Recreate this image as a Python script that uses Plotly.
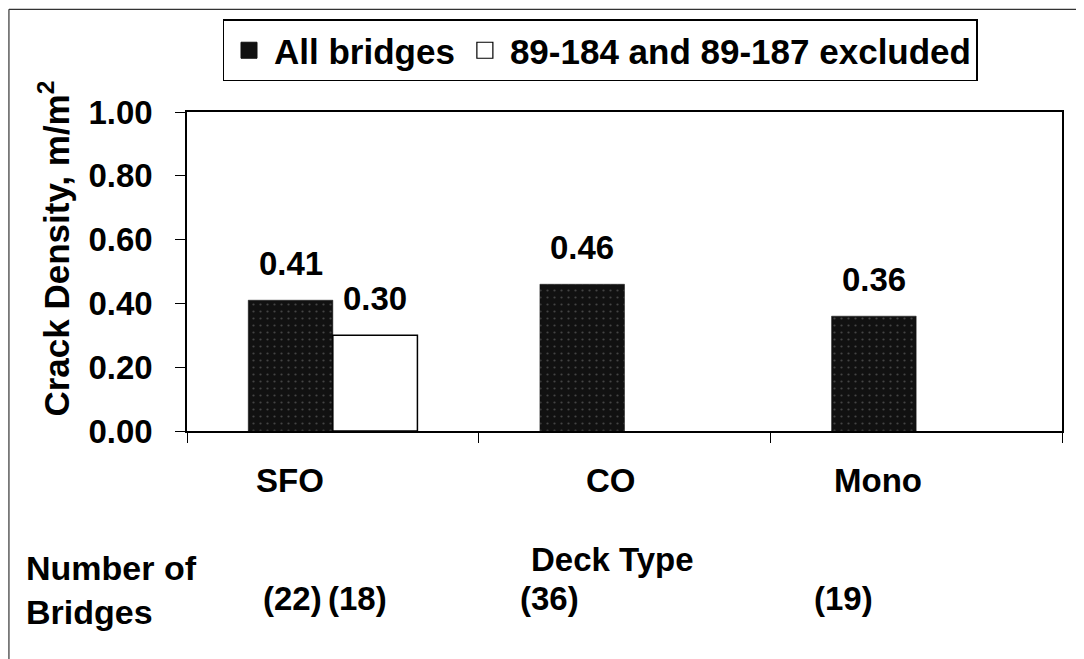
import plotly.graph_objects as go

# ---- data ----
deck_types = ["SFO", "CO", "Mono"]
all_bridges = [0.41, 0.46, 0.36]
excluded = [0.30, None, None]
series_names = ["All bridges", "89-184 and 89-187 excluded"]
n_all = [22, 36, 19]
n_excl = [18, None, None]
y_ticks = [0.0, 0.2, 0.4, 0.6, 0.8, 1.0]

FONT = "Liberation Sans, Arial, sans-serif"
FS = 33
BARGAP = 0.42
HALF = (1 - BARGAP) / 4  # centre offset of each of the two grouped bars


def bold(size):
    return dict(family=FONT, size=size, color="black", weight="bold")


fig = go.Figure()
fig.add_trace(go.Bar(
    x=deck_types, y=all_bridges, name=series_names[0], showlegend=False,
    marker=dict(color="#111111", line=dict(color="#111111", width=0.5),
                pattern=dict(shape=".", fgcolor="#777777", bgcolor="#111111",
                             size=7, solidity=0.08)),
))
fig.add_trace(go.Bar(
    x=deck_types, y=excluded, name=series_names[1], showlegend=False,
    marker=dict(color="white", line=dict(color="black", width=1.5)),
))
# legend entries (larger squares than the default bar swatch)
fig.add_trace(go.Scatter(
    x=[None], y=[None], mode="markers", name=series_names[0],
    marker=dict(symbol="square", size=16, color="#111111", line=dict(color="#111111", width=1)),
))
fig.add_trace(go.Scatter(
    x=[None], y=[None], mode="markers", name=series_names[1],
    marker=dict(symbol="square", size=16, color="white", line=dict(color="black", width=1.2)),
))

annotations = []
# value labels above the bars
for i, v in enumerate(all_bridges):
    if v is not None:
        annotations.append(dict(x=i - HALF, xref="x", y=v, yref="y", text=f"{v:.2f}",
                                showarrow=False, yanchor="middle", yshift=37, font=bold(FS)))
for i, v in enumerate(excluded):
    if v is not None:
        annotations.append(dict(x=i + HALF, xref="x", y=v, yref="y", text=f"{v:.2f}",
                                showarrow=False, yanchor="middle", yshift=37, font=bold(FS)))
# category labels (slightly offset as in the original)
cat_shift = [-43, -14, -38]
for c, s in zip(deck_types, cat_shift):
    annotations.append(dict(x=c, xref="x", y=-0.154, yref="paper", text=c,
                            showarrow=False, xshift=s, yanchor="middle", font=bold(FS)))
# number of bridges
for c, n, s in zip(deck_types, n_all, [-40, -75, -73]):
    annotations.append(dict(x=c, xref="x", y=-0.524, yref="paper", text=f"({n})",
                            showarrow=False, xshift=s, yanchor="middle", font=bold(FS)))
for c, n, s in zip(deck_types, n_excl, [25, 0, 0]):
    if n is not None:
        annotations.append(dict(x=c, xref="x", y=-0.524, yref="paper", text=f"({n})",
                                showarrow=False, xshift=s, yanchor="middle", font=bold(FS)))
annotations.append(dict(x=0.486, xref="paper", y=-0.404, yref="paper", text="Deck Type",
                        showarrow=False, yanchor="middle", font=bold(FS)))
annotations.append(dict(x=-0.186, xref="paper", y=-0.498, yref="paper",
                        text="Number of<br>Bridges", align="left",
                        showarrow=False, xanchor="left", yanchor="middle", font=bold(34)))
annotations.append(dict(x=-0.152, xref="paper", y=0.572, yref="paper",
                        text="Crack Density, m/m<sup>2</sup>", textangle=-90,
                        showarrow=False, xanchor="center", yanchor="middle", font=bold(35)))

shapes = [
    dict(type="line", xref="paper", yref="paper", x0=-0.2035, x1=-0.2035,
         y0=1.322, y1=-0.75, line=dict(color="#333", width=1.2)),
    dict(type="line", xref="paper", yref="paper", x0=-0.2035, x1=1.02,
         y0=1.322, y1=1.322, line=dict(color="#333", width=1.2)),
]

# the page adds an 8px body margin, so margins are reduced by 8px (left/top)
fig.update_layout(
    width=1084, height=659,
    margin=dict(l=179, r=30, t=104, b=236),
    paper_bgcolor="white", plot_bgcolor="white",
    barmode="group", bargap=BARGAP, bargroupgap=0,
    font=dict(family=FONT, color="black"),
    showlegend=True,
    legend=dict(orientation="h", x=0.472, xanchor="center", y=1.29, yanchor="top",
                bordercolor="black", borderwidth=1.5, bgcolor="white",
                font=bold(35), itemwidth=40, traceorder="normal",
                tracegroupgap=0, itemsizing="trace"),
    annotations=annotations,
    shapes=shapes,
)
fig.update_xaxes(
    type="category", categoryorder="array", categoryarray=deck_types,
    range=[-0.5, 2.5], showticklabels=False, ticks="outside", tickson="boundaries",
    ticklen=10, tickcolor="black", showline=True, linecolor="black", linewidth=1.5,
    mirror=True, showgrid=False, zeroline=False,
)
fig.update_yaxes(
    range=[0, 1], tickvals=y_ticks, tickformat=".2f", ticks="outside", ticklen=10,
    ticklabelstandoff=16,
    tickcolor="black", showline=True, linecolor="black", linewidth=1.5, mirror=True,
    showgrid=False, zeroline=False, tickfont=bold(FS),
)

fig.write_html("out.html")
